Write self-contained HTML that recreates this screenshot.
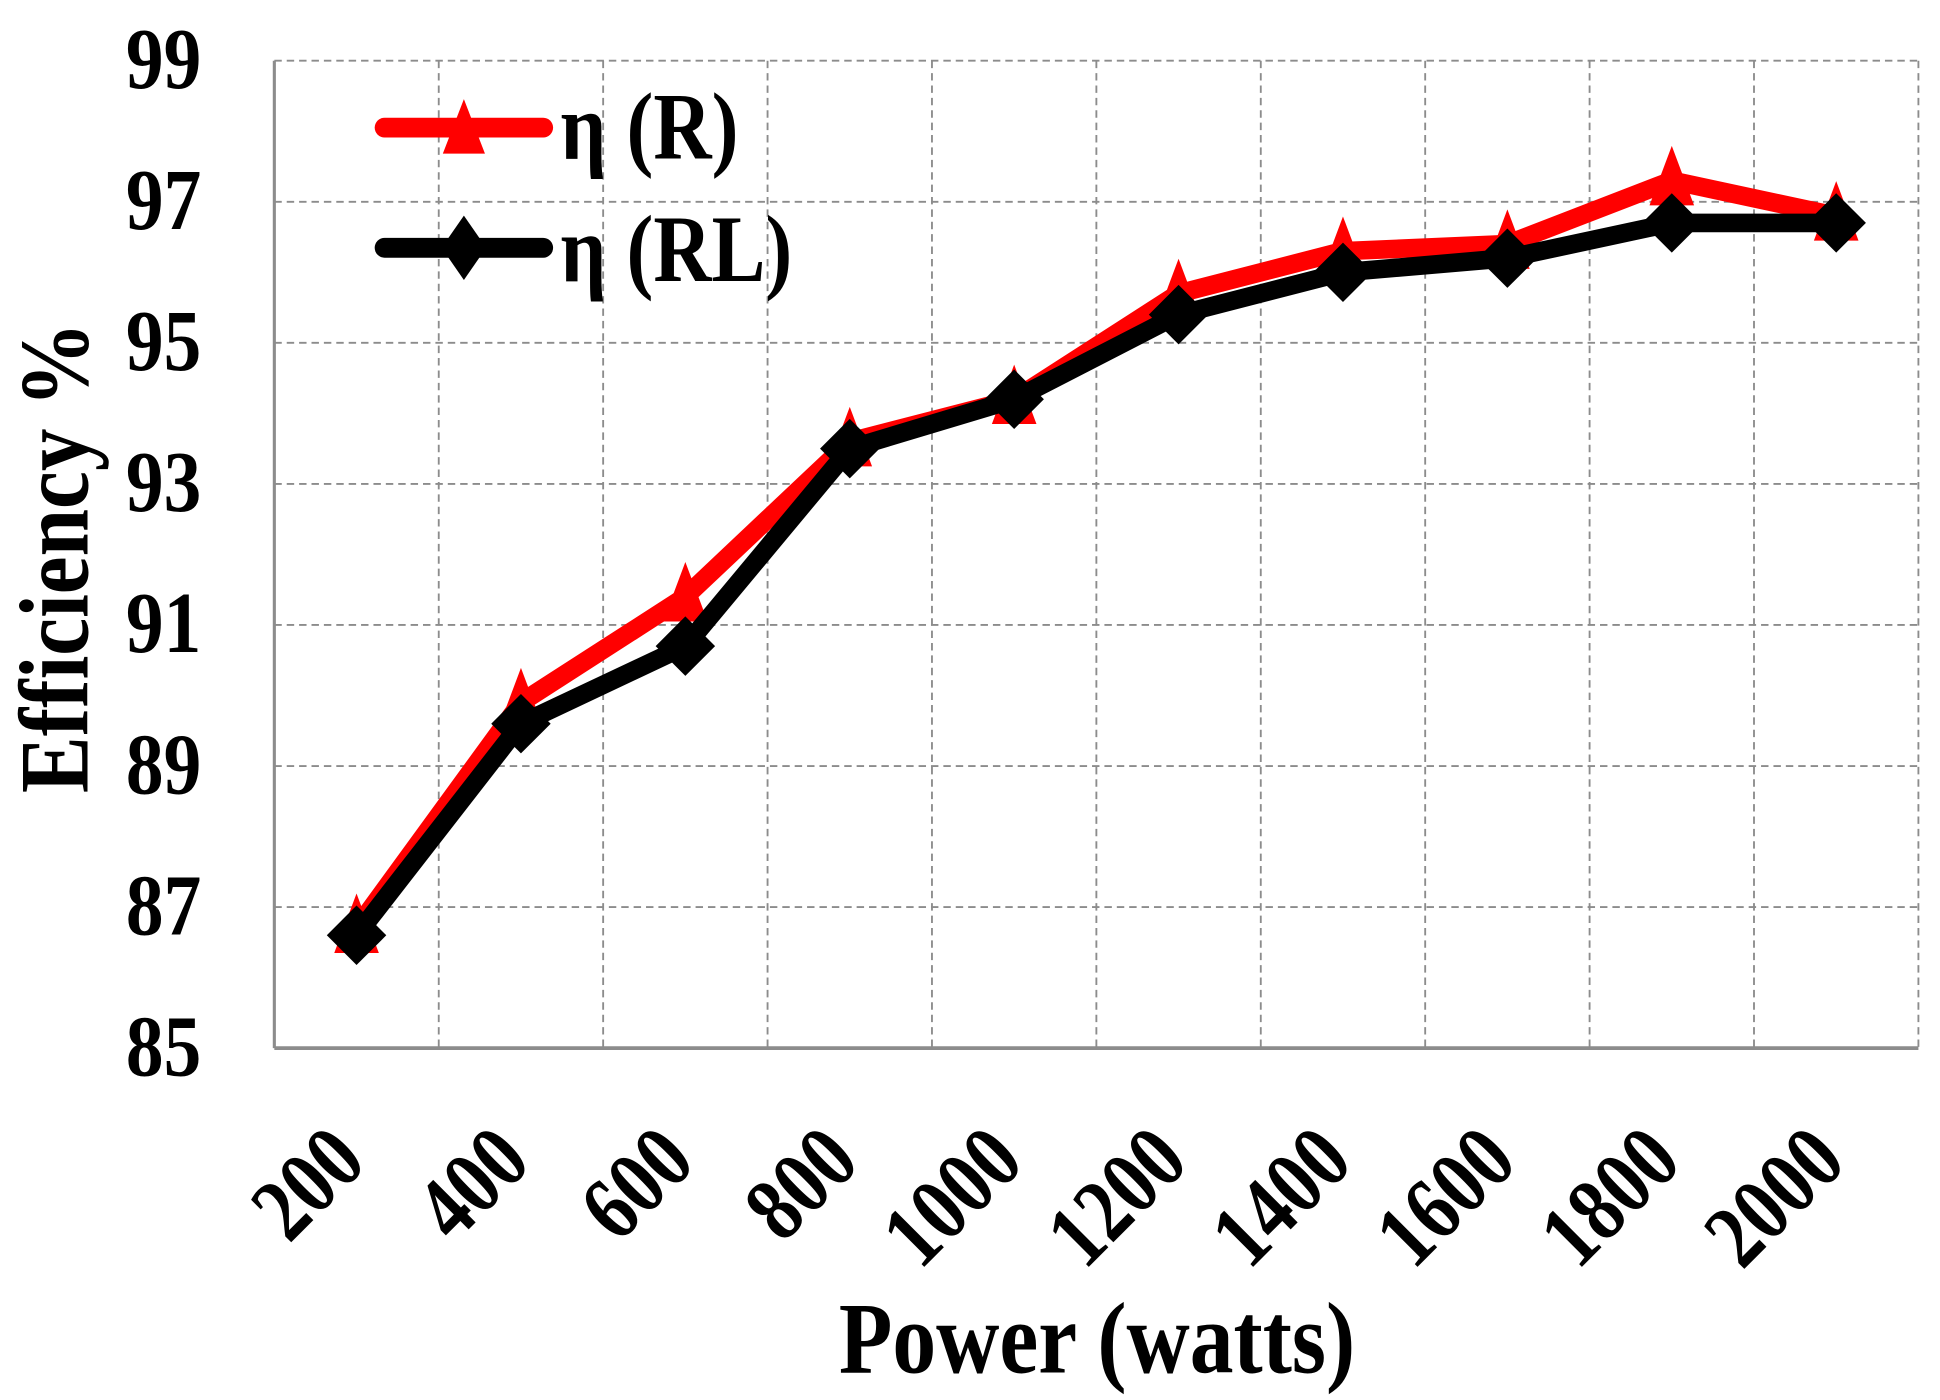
<!DOCTYPE html>
<html><head><meta charset="utf-8"><style>
html,body{margin:0;padding:0;background:#fff;}
svg{display:block;}
text{font-family:"Liberation Serif",serif;font-weight:bold;fill:#000;}
</style></head>
<body>
<svg id="chart" width="1940" height="1400" viewBox="0 0 1565 1130" xmlns="http://www.w3.org/2000/svg">
<g id="grid"></g>
<g id="axes"></g>
<g id="series"></g>
<text transform="translate(885,1108) scale(0.93,1.08)" font-size="76" text-anchor="middle">Power (watts)</text>
<text transform="translate(70,450) rotate(-90) scale(0.93,1.08)" font-size="74" text-anchor="middle">Efficiency %</text>
<g>
  <g>
    <line x1="310" y1="103" x2="438" y2="103" stroke="#ff0000" stroke-width="16" stroke-linecap="round"/>
    <polygon points="374,80 391,124 357,124" fill="#ff0000"/>
    <text transform="translate(452,128) scale(0.93,1.1)" font-size="70">η (R)</text>
  </g>
  <g>
    <line x1="310" y1="200" x2="438" y2="200" stroke="#000" stroke-width="16" stroke-linecap="round"/>
    <polygon points="374,174 392,200 374,226 356,200" fill="#000"/>
    <text transform="translate(452,227) scale(0.93,1.1)" font-size="70">η (RL)</text>
  </g>
</g>
</svg>
<script>
const categories = ["200","400","600","800","1000","1200","1400","1600","1800","2000"];
const seriesR = [86.7, 89.9, 91.4, 93.6, 94.2, 95.7, 96.3, 96.4, 97.3, 96.8];
const seriesRL = [86.6, 89.6, 90.7, 93.5, 94.2, 95.4, 96.0, 96.2, 96.7, 96.7];
const yTicks = [85, 87, 89, 91, 93, 95, 97, 99];

const NS = "http://www.w3.org/2000/svg";
const L = 221, R = 1548, T = 49, B = 846, yMin = 85, yMax = 99;
const band = (R - L) / categories.length;
function xPos(i) { return L + band * (i + 0.5); }
function yPos(v) { return B - (v - yMin) / (yMax - yMin) * (B - T); }
function mk(tag, attrs, parent) {
  const el = document.createElementNS(NS, tag);
  for (const k in attrs) el.setAttribute(k, attrs[k]);
  parent.appendChild(el);
  return el;
}
const grid = document.getElementById("grid");
const axes = document.getElementById("axes");
const series = document.getElementById("series");

yTicks.forEach(function (t) {
  const y = yPos(t);
  if (t !== yMin) {
    const g = mk("line", {x1: L, x2: R, y1: y, y2: y, stroke: "#8c8c8c", "stroke-width": 1.5, "stroke-dasharray": "6,4"}, grid);
    
    
  }
  const lab = mk("text", {transform: "translate(162," + (y + 22) + ") scale(0.95,1.1)", "font-size": 64, "text-anchor": "end"}, axes);
  lab.textContent = t;
  
  
});
for (let i = 1; i <= categories.length; i++) {
  const x = L + band * i;
  const g = mk("line", {x1: x, x2: x, y1: T, y2: B, stroke: "#8c8c8c", "stroke-width": 1.5, "stroke-dasharray": "6,4"}, grid);
  
  
}
const ya = mk("line", {x1: L, x2: L, y1: T, y2: B, stroke: "#8c8c8c", "stroke-width": 2.5}, axes);


const xa = mk("line", {x1: L, x2: R, y1: B, y2: B, stroke: "#8c8c8c", "stroke-width": 3}, axes);



categories.forEach(function (c, i) {
  const x = xPos(i) + 10, y = 940;
  const lab = mk("text", {"font-size": 64, "text-anchor": "end", transform: "translate(" + x + " " + y + ") rotate(-45) scale(0.95,1.15)"}, axes);
  lab.textContent = c;
  
  
});

function drawSeries(vals, color, marker, name) {
  const g = mk("g", {}, series);
  
  
  const pts = vals.map(function (v, i) { return xPos(i) + "," + yPos(v); }).join(" ");
  const pl = mk("polyline", {points: pts, fill: "none", stroke: color, "stroke-width": 15, "stroke-linejoin": "round"}, g);
  
  
  vals.forEach(function (v, i) {
    const x = xPos(i), y = yPos(v);
    let p;
    if (marker === "tri") {
      p = mk("polygon", {points: x + "," + (y - 28) + " " + (x + 18) + "," + (y + 20) + " " + (x - 18) + "," + (y + 20), fill: color}, g);
    } else {
      p = mk("polygon", {points: x + "," + (y - 24) + " " + (x + 24) + "," + y + " " + x + "," + (y + 24) + " " + (x - 24) + "," + y, fill: color}, g);
    }
    
    
  });
}
drawSeries(seriesR, "#ff0000", "tri", "series-r");
drawSeries(seriesRL, "#000000", "dia", "series-rl");
</script>
</body></html>
